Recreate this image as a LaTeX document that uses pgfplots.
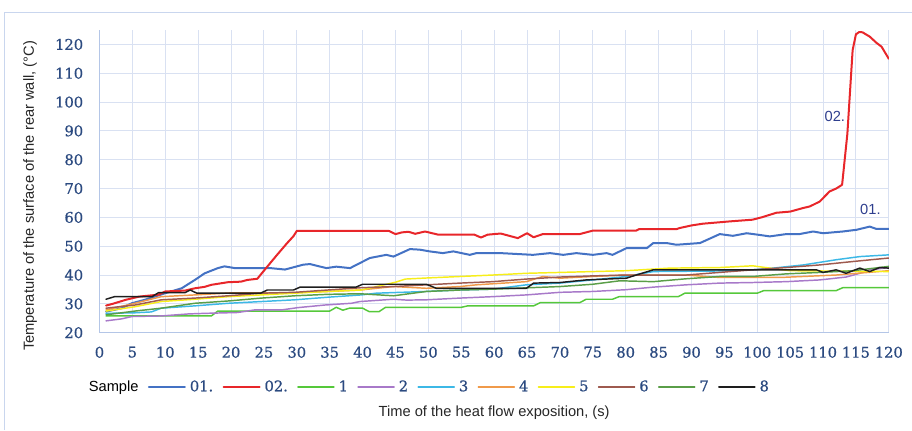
\documentclass[border=0pt]{standalone}
\usepackage{pgfplots}
\pgfplotsset{compat=1.18}
\usepackage{fontspec}
\setmainfont{Liberation Sans}
\newfontfamily\tickfont[FakeBold=0.8]{DejaVu Serif}
\definecolor{cBlue}{HTML}{4472C4}
\definecolor{cRed}{HTML}{E8262A}
\definecolor{cGreen}{HTML}{55C83A}
\definecolor{cPurple}{HTML}{A879C9}
\definecolor{cCyan}{HTML}{3CB8E6}
\definecolor{cOrange}{HTML}{F09A4A}
\definecolor{cYellow}{HTML}{F7EE1A}
\definecolor{cBrown}{HTML}{9E5A4F}
\definecolor{cDGreen}{HTML}{5A9E48}
\definecolor{cBlack}{HTML}{1E1E1E}
\definecolor{cNavy}{HTML}{2B4A80}
\definecolor{cAnn}{HTML}{2E3E8E}
\definecolor{cGrid}{HTML}{D9E1F2}
\definecolor{cAxis}{HTML}{B4C6E7}
\definecolor{cFrame}{HTML}{C9D6EE}
\begin{document}
\begin{tikzpicture}
\useasboundingbox (-74.6pt,-73pt) rectangle (609.4pt,249.5pt);
\draw[cFrame, line width=0.75pt] (-70.9pt,-73pt) -- (-70.9pt,240.5pt) -- (609.4pt,240.5pt);
\begin{axis}[
  scale only axis,
  width=592pt, height=227pt,
  xmin=0, xmax=120, ymin=20, ymax=125,
  xtick={0,5,...,120}, ytick={20,30,...,120},
  axis x line*=bottom, axis y line*=left,
  axis line style={cAxis, line width=0.8pt, -},
  grid=major, major grid style={cGrid, line width=0.75pt},
  major tick length=0pt,
  tick label style={font=\tickfont\fontsize{11}{13}\selectfont, text=cNavy},
  /pgf/number format/assume math mode=true,
  xticklabel style={anchor=north, yshift=-7pt},
  yticklabel style={anchor=east, xshift=-8.7pt},
  xlabel={Time of the heat flow exposition, (s)},
  ylabel={Temperature of the surface of the rear wall, (\textdegree C)},
  label style={font=\fontsize{11}{13}\selectfont, text=black!85},
  xlabel style={at={(axis description cs:0.5,-0.264)}, anchor=center},
  ylabel style={at={(axis description cs:-0.0879,0.4515)}, anchor=center},
  legend columns=-1,
  legend style={draw=none, fill=none, inner sep=0pt,
    at={(axis description cs:-0.0155,-0.179)}, anchor=west,
    font=\fontsize{11}{13}\selectfont,
    nodes={inner sep=1pt},
    /tikz/every even column/.append style={column sep=6pt}},
  legend image code/.code={\draw[#1] (0pt,0pt) -- (27pt,0pt); \path (29pt,0pt);},
  every axis plot/.append style={line join=round, line cap=round},
]
\addlegendimage{empty legend}
\addlegendentry{Sample}
% 01.
\addplot[cBlue, line width=1.5pt] table {
1 27.3
3.4 28.5
4.9 30.2
6.9 31.4
10 33.7
12.5 35.4
14.5 38.3
16 40.6
18 42.4
19 43
20.6 42.4
26 42.4
28.2 41.9
31 43.6
32 43.8
34.5 42.4
36 42.9
38.1 42.4
41.1 45.9
43.6 47
44.7 46.4
47.2 49
48.7 48.8
50.2 48.2
52.2 47.6
53.8 48.2
56.3 47
57.3 47.6
61 47.6
65.9 47
68.5 47.6
70.5 47
72.5 47.6
75 47
77.1 47.6
78 47
80.1 49.3
83.2 49.3
84.2 51.1
86.2 51.1
87.7 50.5
91.3 51.1
94.3 54.2
96.3 53.6
98.4 54.5
100.4 53.9
101.9 53.4
104.4 54.2
106.4 54.2
108.5 55.1
110 54.5
113 55.1
115.1 55.7
117.1 56.8
118.1 56
120 56
};
\addlegendentry{\tickfont\color{cNavy}01.}
% 02.
\addplot[cRed, line width=1.5pt] table {
1 29.4
2 30
4 31.4
6 32.5
9 33.2
10 34.3
13 34.6
14.5 35.4
16 35.9
17 36.6
19.5 37.5
21.5 37.7
22.5 38.3
24 38.7
25 41.5
27 47
28.5 51
29.5 53.5
30 55.3
44 55.3
45 54.2
46 54.8
47 55
48 54.3
49.5 55.1
51.5 54
57 54
58 53
59 54
61 54.4
63.6 52.8
65 54.5
66 53.1
67.4 54.2
73 54.2
75 55.4
81.6 55.4
82 55.9
87.7 55.9
88.2 56.3
90 57.2
91.7 57.8
95.8 58.6
99.3 59.2
100.8 60.1
102.9 61.6
105 62
106.9 63.2
108 63.8
109.5 65.5
111 69
112 70
112.9 71.3
113.7 89
114.5 118
115 123.5
115.5 124.3
116 124.2
117.1 122.7
118.1 120.6
118.9 119.2
120 115
};
\addlegendentry{\tickfont\color{cNavy}02.}
% 1
\addplot[cGreen, line width=1.1pt] table {
1 25.8
17 25.8
18 27.5
35 27.5
36 28.8
37 27.8
38 28.5
40 28.5
41 27.3
42.5 27.3
43.5 28.8
55 28.8
56 29.3
66 29.3
67 30.4
73 30.4
74 31.6
78 31.6
79 32.5
88 32.5
89 33.7
100 33.7
101 34.6
112 34.6
113 35.6
120 35.6
};
\addlegendentry{\tickfont\color{cNavy}1}
% 2
\addplot[cPurple, line width=1.1pt] table {
1 24.1
3.4 24.8
4.9 25.6
9.4 25.8
13.5 26.5
16 26.7
21 27
23.6 27.9
27.7 27.9
30.2 28.7
34.3 29.6
38.3 30.2
39.6 30.8
44.7 31.6
46.7 31.3
49.7 31.4
54.8 32
59.8 32.5
64.9 33.1
70 34
75 34.3
80 34.9
84.2 35.8
89.2 36.6
94.3 37.2
99.3 37.4
104.4 37.7
109.5 38.3
113.5 39.3
115.6 40.6
117.1 41.8
120 42.6
};
\addlegendentry{\tickfont\color{cNavy}2}
% 3
\addplot[cCyan, line width=1.1pt] table {
1 26.7
5.4 26.9
7.9 27.2
9.4 28.5
14.5 29.3
19.6 30.2
24.6 30.8
29.7 31.4
34.7 32.3
39.8 33.1
42.1 33.7
49.7 34.3
54.8 34.8
59.8 35.1
64.9 36.6
70 37.2
75 38.3
80.1 39.5
84.2 41.2
94 41.4
99.3 41.8
102.4 42.4
107 43.5
112 45.3
115.6 46.4
120 47
};
\addlegendentry{\tickfont\color{cNavy}3}
% 4
\addplot[cOrange, line width=1.1pt] table {
1 27.9
5.4 30.2
9.4 32.5
14.5 33.1
20 33.8
28.5 33.8
35 34.3
39.6 34.8
44.7 36
49.7 35.4
54.8 36
57.3 36.6
64.9 37.7
67.4 39.5
70 38.9
75 39.5
80 40
89.2 40
94 39.2
104 39.2
112 40
120 41.5
};
\addlegendentry{\tickfont\color{cNavy}4}
% 5
\addplot[cYellow, line width=1.1pt] table {
1 27.5
5.4 29
9.4 30.8
14.5 31.6
19.6 32.5
24.6 33.1
29.7 33.7
34.7 34.3
39.8 34.8
43.1 36.5
45 37.5
46.5 38.6
50 39
59.8 40
64.9 40.6
75 41.2
80.1 41.5
86.7 42.4
94.3 42.6
99.3 43.2
101.9 42.4
105 41.5
120 41.2
};
\addlegendentry{\tickfont\color{cNavy}5}
% 6
\addplot[cBrown, line width=1.1pt] table {
1 28.5
5.4 29.6
9.4 31.4
14.5 32
19.6 32.8
24.6 33.7
29.7 34
34.7 34.8
39.8 35.6
44.7 36
54.8 37.2
59.8 37.7
64.9 38.6
70 39.3
75 39.7
80.1 40
89.2 40
99.3 41.8
104.4 42.6
109.5 43.5
114.6 44.7
120 45.9
};
\addlegendentry{\tickfont\color{cNavy}6}
% 7
\addplot[cDGreen, line width=1.1pt] table {
1 26.2
5.4 27.5
9.4 28.5
14.5 30.2
19.6 31
24.6 32
29.7 32.8
34.7 33.3
39.6 33.5
44.7 32.8
49.7 34.3
54.8 34.8
59.8 35.1
70 36
75 36.8
79.1 38
84.2 37.7
89.2 38.7
94.3 39.5
99.3 39.5
104.4 40.4
109.5 40.9
114.6 41.5
120 43
};
\addlegendentry{\tickfont\color{cNavy}7}
% 8
\addplot[cBlack, line width=1.1pt] table {
1 31.6
2.3 32.5
8 32.5
9 33.9
13 33.9
13.8 34.8
14.8 33.7
24.5 33.7
25.5 34.8
29.5 34.8
30.5 35.8
39 35.8
40 36.8
49.7 36.8
51.2 35.4
64.9 35.4
66 37.2
70 37.4
74 38.3
80.1 38.9
81.6 40
84.2 41.8
109 41.8
110 40.9
112 41.8
113.5 40.6
115.6 42.4
117.1 41.2
118.6 42.6
120 42.4
};
\addlegendentry{\tickfont\color{cNavy}8}
\node[text=cAnn, font=\fontsize{11}{13}\selectfont] at (axis cs:111.8,95) {02.};
\node[text=cAnn, font=\fontsize{11}{13}\selectfont] at (axis cs:117.2,62.6) {01.};
\end{axis}
\end{tikzpicture}
\end{document}
